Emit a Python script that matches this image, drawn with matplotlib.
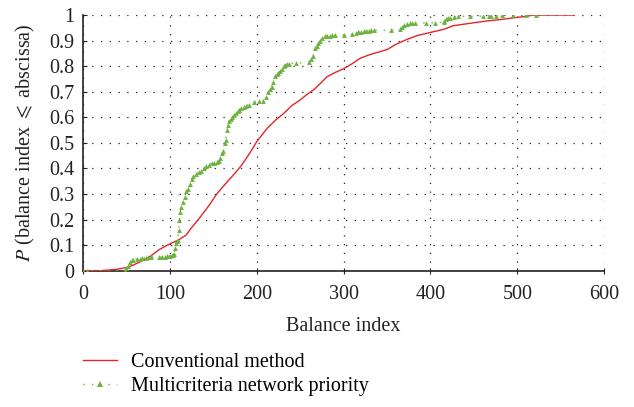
import matplotlib
matplotlib.use("Agg")
import matplotlib.pyplot as plt

# Conventional method (red ECDF)
conv_x = [0, 20, 38, 50, 58, 70, 77, 88, 100, 110, 119, 123, 135, 145, 154, 164, 173, 182, 192, 200, 212, 222, 231, 240, 250,
          258, 266, 274, 281, 290, 300, 310, 319, 330, 340, 350, 360, 373, 385, 400, 415, 426, 440, 465, 480, 500, 510, 518, 540, 565]
conv_y = [0, 0.0, 0.005, 0.012, 0.022, 0.042, 0.055, 0.083, 0.105, 0.12, 0.14, 0.16, 0.21, 0.255, 0.30, 0.34, 0.374, 0.41, 0.46, 0.505, 0.557, 0.59, 0.615, 0.645, 0.668,
          0.69, 0.709, 0.735, 0.759, 0.775, 0.79, 0.81, 0.831, 0.845, 0.855, 0.865, 0.885, 0.905, 0.92, 0.932, 0.944, 0.958, 0.965, 0.977, 0.982, 0.991, 0.995, 1.0, 1.0, 1.0]

# Multicriteria network priority (green ECDF)
mnp_x = [0, 5, 48, 50, 52, 54, 56, 58, 62, 65, 68, 72, 75, 78, 88, 91, 94, 97, 100, 102, 104, 105, 106, 107, 108, 109, 110,
         111, 112, 113, 115, 117, 119, 121, 123, 125, 127, 130, 133, 136, 139, 142, 145, 148, 151, 154, 156, 158, 160, 161,
         163, 164, 166, 167, 168, 170, 172, 174, 176, 178, 180, 182, 185, 188, 191, 197, 203, 207, 211, 213, 215, 217, 219,
         221, 223, 225, 227, 229, 231, 233, 235, 237, 245, 260, 263, 265, 267, 269, 271, 273, 275, 278, 281, 284, 287, 290,
         300, 310, 314, 317, 320, 323, 326, 329, 332, 335, 355, 365, 367, 370, 373, 376, 379, 382, 395, 405, 415, 416, 418,
         420, 423, 427, 432, 445, 460, 467, 470, 475, 482, 495, 510, 522]
mnp_y = [0, 0, 0.0, 0.01, 0.02, 0.035, 0.04, 0.043, 0.045, 0.047, 0.05, 0.05, 0.052, 0.053, 0.053, 0.054, 0.055, 0.056, 0.058,
         0.06, 0.062, 0.065, 0.09, 0.11, 0.115, 0.12, 0.16, 0.2, 0.23, 0.25, 0.27, 0.29, 0.31, 0.32, 0.34, 0.36, 0.37, 0.38,
         0.385, 0.39, 0.4, 0.41, 0.415, 0.42, 0.42, 0.425, 0.43, 0.44, 0.46, 0.47, 0.5, 0.51, 0.55, 0.57, 0.585, 0.595, 0.6,
         0.61, 0.615, 0.625, 0.63, 0.635, 0.64, 0.645, 0.65, 0.66, 0.662, 0.665, 0.68, 0.7, 0.71, 0.72, 0.74, 0.76, 0.77,
         0.775, 0.78, 0.79, 0.80, 0.805, 0.81, 0.81, 0.812, 0.815, 0.83, 0.84, 0.87, 0.88, 0.89, 0.9, 0.91, 0.918, 0.92, 0.92,
         0.922, 0.922, 0.922, 0.925, 0.93, 0.932, 0.935, 0.936, 0.937, 0.938, 0.94, 0.94, 0.94, 0.945, 0.955, 0.962, 0.965,
         0.967, 0.968, 0.968, 0.97, 0.97, 0.972, 0.978, 0.985, 0.988, 0.99, 0.993, 0.995, 0.995, 0.996, 0.997, 0.998, 0.998,
         0.999, 0.999, 1.0, 1.0]

x_ticks = [0, 100, 200, 300, 400, 500, 600]
y_ticks = [0, 0.1, 0.2, 0.3, 0.4, 0.5, 0.6, 0.7, 0.8, 0.9, 1]
y_tick_labels = ["0", "0.1", "0.2", "0.3", "0.4", "0.5", "0.6", "0.7", "0.8", "0.9", "1"]

plt.rcParams['font.family'] = ['Liberation Serif', 'DejaVu Serif']
plt.rcParams['mathtext.fontset'] = 'stix'

FS = 14.5
fig = plt.figure(figsize=(6.34, 4.07), dpi=100)
ax = fig.add_axes([0.131, 0.335, 0.822, 0.628])

red = '#E3262B'
green = '#6DB33F'

ax.plot(conv_x, conv_y, color=red, lw=1.0, label='Conventional method', zorder=3)
ax.plot(mnp_x, mnp_y, color=green, lw=1.0, linestyle=(0, (1, 5)), marker='^', markersize=3.5,
        markeredgewidth=0, label='Multicriteria network priority', zorder=4)

ax.set_xlim(0, 600)
ax.set_ylim(0, 1)
ax.set_xticks(x_ticks)
ax.set_yticks(y_ticks)
ax.set_yticklabels(y_tick_labels)
ax.tick_params(axis='both', labelsize=FS, colors='#222222', width=0.8)
ax.tick_params(axis='x', direction='inout', length=5, pad=8)
ax.tick_params(axis='y', direction='in', length=3, pad=6)

ax.grid(True, color='#222222', linestyle=(0, (1, 6)), linewidth=0.9)
for s in ['top', 'right']:
    ax.spines[s].set_visible(False)
for s in ['left', 'bottom']:
    ax.spines[s].set_color('#222222')
    ax.spines[s].set_linewidth(1.2)

ax.set_xlabel('Balance index', fontsize=FS, color='#222222', labelpad=9)
ax.set_ylabel(r'$P$ (balance index $\leqslant$ abscissa)', fontsize=FS, color='#222222', labelpad=9)

handles, labels = ax.get_legend_handles_labels()
fig.legend(handles, labels, loc='center left', bbox_to_anchor=(0.131, 0.08), frameon=False,
           fontsize=FS, handlelength=1.7, handletextpad=0.7, labelspacing=0.25, numpoints=1,
           borderpad=0, borderaxespad=0, markerscale=1.4)

fig.savefig('out.png', dpi=100)
